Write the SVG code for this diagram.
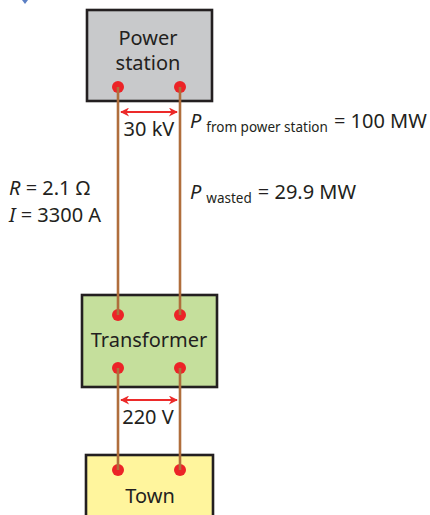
<svg xmlns="http://www.w3.org/2000/svg" width="430" height="515" viewBox="0 0 430 515">
<defs>
<style>
text{font-family:"Noto Sans","Open Sans","Liberation Sans",sans-serif;fill:#231f20;}
.lbl{font-size:20px;}
.sub{font-size:13.5px;}
.it{font-style:italic;}
.box{stroke:#231f20;stroke-width:2.6;}
.wire{stroke:#b06e3c;stroke-width:2.6;fill:none;}
.dot{fill:#ec2327;}
.arr{stroke:#ec2a2a;stroke-width:1.8;fill:none;}
</style>
<marker id="ah" viewBox="0 0 10 10" refX="9" refY="5" markerWidth="10" markerHeight="9" orient="auto-start-reverse" markerUnits="userSpaceOnUse">
<path d="M0,0 L10,5 L0,10 L3,5 Z" fill="#ec2a2a"/>
</marker>
</defs>
<rect width="430" height="515" fill="#ffffff"/>
<polygon points="22,0 28,0 25,4" fill="#5b7fc4"/>
<g id="power-station">
<rect class="box" x="87" y="10" width="125" height="91" fill="#c8c9cb"/>
<text class="lbl" x="148" y="45" text-anchor="middle">Power</text>
<text class="lbl" x="148" y="70" text-anchor="middle">station</text>
<circle class="dot" cx="118" cy="87" r="6"/>
<circle class="dot" cx="180" cy="87" r="6"/>
</g>
<g id="transformer">
<rect class="box" x="82" y="295" width="135" height="92" fill="#c5df9c"/>
<text class="lbl" x="149" y="347" text-anchor="middle">Transformer</text>
<circle class="dot" cx="118" cy="315" r="6"/>
<circle class="dot" cx="180" cy="315" r="6"/>
<circle class="dot" cx="118" cy="368" r="6"/>
<circle class="dot" cx="180" cy="368" r="6"/>
</g>
<g id="town">
<rect class="box" x="86" y="455" width="127" height="70" fill="#fff59d"/>
<text class="lbl" x="150" y="503" text-anchor="middle">Town</text>
<circle class="dot" cx="118" cy="470" r="6"/>
<circle class="dot" cx="180" cy="470" r="6"/>
</g>
<g id="connectors">
<line class="wire" x1="118" y1="87" x2="118" y2="315"/>
<line class="wire" x1="180" y1="87" x2="180" y2="315"/>
<line class="wire" x1="118" y1="368" x2="118" y2="470"/>
<line class="wire" x1="180" y1="368" x2="180" y2="470"/>
<line class="arr" x1="121" y1="112" x2="177" y2="112" marker-start="url(#ah)" marker-end="url(#ah)"/>
<line class="arr" x1="121" y1="400" x2="177" y2="400" marker-start="url(#ah)" marker-end="url(#ah)"/>
</g>
<g id="labels">
<text class="lbl" x="149" y="136" text-anchor="middle">30 kV</text>
<text class="lbl" x="148" y="424" text-anchor="middle">220 V</text>
<text class="lbl" x="190" y="128"><tspan class="it">P</tspan><tspan class="sub" dx="5" dy="4">from power station</tspan><tspan dx="6" dy="-4">= 100 MW</tspan></text>
<text class="lbl" x="190" y="199"><tspan class="it">P</tspan><tspan class="sub" dx="5" dy="4">wasted</tspan><tspan dx="6" dy="-4">= 29.9 MW</tspan></text>
<text class="lbl" x="9" y="195"><tspan class="it">R</tspan> = 2.1 Ω</text>
<text class="lbl" x="9" y="222"><tspan class="it">I</tspan> = 3300 A</text>
</g>
</svg>
